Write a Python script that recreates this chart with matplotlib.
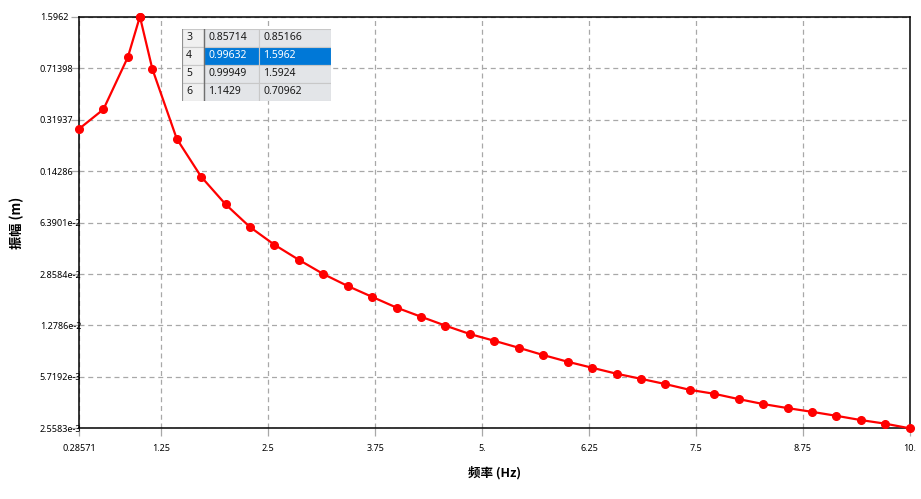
import matplotlib
matplotlib.use("Agg")
import matplotlib.pyplot as plt
from matplotlib.patches import Rectangle
from matplotlib.ticker import NullLocator

# 频率 (Hz) 和 振幅 (m) 数据
freq = [0.28571, 0.57143, 0.85714, 0.99632, 0.99949, 1.1429, 1.4286, 1.7143,
        2.0, 2.2857, 2.5714, 2.8571, 3.1429, 3.4286, 3.7143, 4.0, 4.2857,
        4.5714, 4.8571, 5.1429, 5.4286, 5.7143, 6.0, 6.2857, 6.5714, 6.8571,
        7.1429, 7.4286, 7.7143, 8.0, 8.2857, 8.5714, 8.8571, 9.1429, 9.4286,
        9.7143, 10.0]
amp = [0.277, 0.3763, 0.85166, 1.5962, 1.5924, 0.70962, 0.2375, 0.1311,
       0.0851, 0.0596, 0.0452, 0.0357, 0.0286, 0.0237, 0.0200, 0.0169,
       0.01466, 0.01275, 0.01118, 0.01006, 0.00902, 0.00805, 0.00725,
       0.00660, 0.00601, 0.00555, 0.00511, 0.00467, 0.00439, 0.00404,
       0.00374, 0.00351, 0.00331, 0.00311, 0.00291, 0.00275, 0.0025583]

x_ticks = [0.28571, 1.25, 2.5, 3.75, 5.0, 6.25, 7.5, 8.75, 10.0]
x_tick_labels = ["0.28571", "1.25", "2.5", "3.75", "5.", "6.25", "7.5", "8.75", "10."]
y_ticks = [0.0025583, 0.0057192, 0.012786, 0.028584, 0.063901, 0.14286,
           0.31937, 0.71398, 1.5962]
y_tick_labels = ["2.5583e-3", "5.7192e-3", "1.2786e-2", "2.8584e-2", "6.3901e-2",
                 "0.14286", "0.31937", "0.71398", "1.5962"]

# 表格里显示的行 (1-based index), 选中的行
table_rows = [3, 4, 5, 6]
selected_row = 4

plt.rcParams['font.family'] = ['Noto Sans', 'Noto Sans CJK SC', 'DejaVu Sans']

fig = plt.figure(figsize=(9.21, 4.99), dpi=100)
ax = fig.add_axes([79 / 921, 1 - 428.3 / 499, 830.7 / 921, 411.3 / 499])

ax.plot(freq, amp, color='#ff0000', lw=1.6, marker='o', ms=5.5,
        clip_on=False, zorder=3)

ax.set_yscale('log')
ax.set_xlim(x_ticks[0], x_ticks[-1])
ax.set_ylim(y_ticks[0], y_ticks[-1])
ax.set_xticks(x_ticks)
ax.set_xticklabels(x_tick_labels)
ax.set_yticks(y_ticks)
ax.set_yticklabels(y_tick_labels)
ax.yaxis.set_minor_locator(NullLocator())
ax.xaxis.set_minor_locator(NullLocator())

ax.grid(True, color='#a8a8a8', linestyle=(0, (4, 3)), linewidth=0.9, zorder=0)
ax.set_axisbelow(True)
ax.tick_params(axis='both', length=6, width=0.9, color='#a8a8a8',
               labelsize=6.5, labelcolor='black')
ax.tick_params(axis='x', pad=5)
ax.tick_params(axis='y', pad=22.3)
for lbl in ax.get_yticklabels():
    lbl.set_horizontalalignment('left')
for sp in ax.spines.values():
    sp.set_color('black')
    sp.set_linewidth(1.1)

ax.set_xlabel('频率 (Hz)', fontsize=9, fontweight='bold',
              family=['Noto Sans CJK SC', 'DejaVu Sans'], labelpad=10)
ax.set_ylabel('振幅 (m)', fontsize=9.5, fontweight='bold',
              family=['Noto Sans CJK SC', 'DejaVu Sans'])
ax.yaxis.set_label_coords(-0.0662, 0.5)

# 数据表 (插图)
tax = fig.add_axes([182 / 921, 1 - 100.5 / 499, 149 / 921, 72 / 499])
tax.set_xlim(0, 149)
tax.set_ylim(72, 0)
tax.axis('off')
col_x = [0, 22, 77, 149]
row_h = 18
for i, r in enumerate(table_rows):
    y0 = i * row_h
    sel = (r == selected_row)
    cells = [str(r), f"{freq[r - 1]:.5g}", f"{amp[r - 1]:.5g}"]
    for j in range(3):
        w = col_x[j + 1] - col_x[j]
        if j == 0:
            bg = '#f0f0f0'
        elif sel:
            bg = '#0078d7'
        else:
            bg = '#e3e5e8'
        tax.add_patch(Rectangle((col_x[j], y0), w, row_h, facecolor=bg,
                                edgecolor='#c8c8c8', lw=0.8))
        tax.text(col_x[j] + 4, y0 + row_h / 2 + 0.5, cells[j], fontsize=7.5,
                 va='center', ha='left',
                 color='white' if (sel and j > 0) else '#1a1a1a')
tax.plot([col_x[1], col_x[1]], [0, 72], color='#707070', lw=1.0)
tax.plot([0, 0], [0, 72], color='#909090', lw=0.8)

fig.savefig('out.png', dpi=100)
